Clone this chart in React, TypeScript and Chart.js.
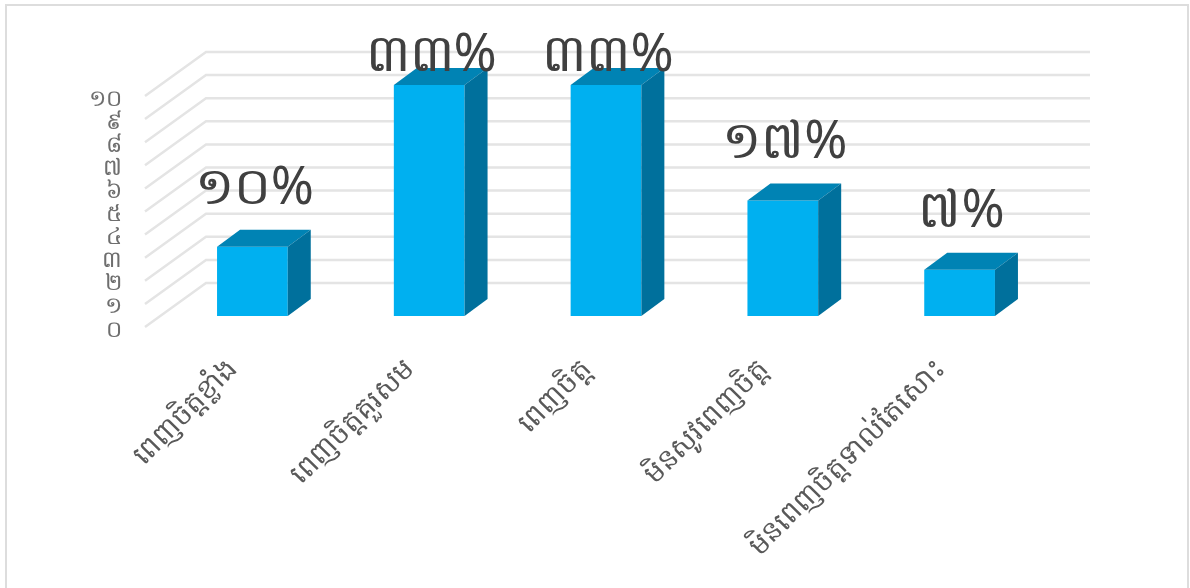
import { useEffect, useRef } from "react";
import { Chart, registerables } from "chart.js";

Chart.register(...registerables);

const categories = ["ពេញចិត្តខ្លាំង", "ពេញចិត្តគួរសម", "ពេញចិត្ត", "មិនសូវពេញចិត្ត", "មិនពេញចិត្តទាល់តែសោះ"];
const counts = [3, 10, 10, 5, 2];
const percentLabels = ["១០%", "៣៣%", "៣៣%", "១៧%", "៧%"];
const khmerDigits = ["០", "១", "២", "៣", "៤", "៥", "៦", "៧", "៨", "៩", "១០"];

const FONT = '"Noto Sans", "DejaVu Sans", sans-serif';
const FRONT = "#00B0F0";
const TOP = "#0083B4";
const SIDE = "#00709C";
const GRID = "#E4E4E4";

// Perspective offsets of the bars' depth and of the floor and back wall.
const BAR_DX = 23;
const BAR_DY = -17;
const WALL_BACK = { dx: 42, dy: -33 };
const WALL_FRONT = { dx: -19, dy: 11 };

const wallPlugin = {
  id: "wall",
  beforeDatasetsDraw(chart: any) {
    const { ctx, chartArea, scales } = chart;
    ctx.save();
    ctx.strokeStyle = GRID;
    ctx.lineWidth = 2.5;
    for (const tick of scales.y.ticks) {
      const y = scales.y.getPixelForValue(tick.value);
      ctx.beginPath();
      ctx.moveTo(chartArea.left + WALL_FRONT.dx, y + WALL_FRONT.dy);
      ctx.lineTo(chartArea.left + WALL_BACK.dx, y + WALL_BACK.dy);
      ctx.lineTo(chartArea.right + WALL_BACK.dx, y + WALL_BACK.dy);
      ctx.stroke();
    }
    ctx.restore();
  },
};

const barDepthPlugin = {
  id: "barDepth",
  afterDatasetsDraw(chart: any) {
    const { ctx } = chart;
    ctx.save();
    for (const bar of chart.getDatasetMeta(0).data) {
      const left = bar.x - bar.width / 2;
      const right = bar.x + bar.width / 2;
      ctx.fillStyle = TOP;
      ctx.beginPath();
      ctx.moveTo(left, bar.y);
      ctx.lineTo(left + BAR_DX, bar.y + BAR_DY);
      ctx.lineTo(right + BAR_DX, bar.y + BAR_DY);
      ctx.lineTo(right, bar.y);
      ctx.closePath();
      ctx.fill();
      ctx.fillStyle = SIDE;
      ctx.beginPath();
      ctx.moveTo(right, bar.y);
      ctx.lineTo(right + BAR_DX, bar.y + BAR_DY);
      ctx.lineTo(right + BAR_DX, bar.base + BAR_DY);
      ctx.lineTo(right, bar.base);
      ctx.closePath();
      ctx.fill();
    }
    ctx.restore();
  },
};

const percentLabelPlugin = {
  id: "percentLabels",
  afterDraw(chart: any) {
    const { ctx } = chart;
    ctx.save();
    ctx.fillStyle = "#404040";
    ctx.font = `52px ${FONT}`;
    ctx.textAlign = "center";
    ctx.textBaseline = "alphabetic";
    chart.getDatasetMeta(0).data.forEach((bar: any, i: number) => {
      const y = Math.max(bar.y - 43, 71);
      ctx.fillText(percentLabels[i], bar.x + 2, y);
    });
    ctx.restore();
  },
};

export default function App() {
  const ref = useRef<HTMLCanvasElement>(null);
  useEffect(() => {
    document.body.style.margin = "0";
    const chart = new Chart(ref.current!, {
      type: "bar",
      data: {
        labels: categories,
        datasets: [{ data: counts, backgroundColor: FRONT, barPercentage: 0.4, categoryPercentage: 1 }],
      },
      options: {
        animation: false,
        responsive: false,
        layout: { padding: { top: 85, right: 142, left: 0, bottom: 0 } },
        plugins: { legend: { display: false }, tooltip: { enabled: false } },
        scales: {
          x: {
            grid: { display: false },
            border: { display: false },
            afterFit(scale: any) { scale.height = 272; },
            ticks: {
              minRotation: 45,
              maxRotation: 45,
              padding: 29,
              labelOffset: -19,
              autoSkip: false,
              color: "#595959",
              font: { size: 28, family: FONT },
            },
          },
          y: {
            min: 0,
            max: 10,
            grid: { display: false },
            border: { display: false },
            afterFit(scale: any) { scale.width = 164; },
            ticks: {
              stepSize: 1,
              autoSkip: false,
              padding: 34,
              labelOffset: 14,
              color: "#6E6E6E",
              font: { size: 23, family: FONT },
              callback: (v: any) => khmerDigits[v as number],
            },
          },
        },
      },
      plugins: [wallPlugin, barDepthPlugin, percentLabelPlugin],
    });
    return () => chart.destroy();
  }, []);
  return (
    <div style={{ position: "relative", width: 1190, height: 588, background: "#fff", overflow: "hidden" }}>
      <canvas ref={ref} width={1190} height={588} style={{ display: "block" }} />
      <div
        style={{
          position: "absolute",
          left: 5,
          top: 4,
          width: 1180,
          height: 590,
          borderLeft: "2px solid #DDDDDD",
          borderTop: "2px solid #DDDDDD",
          borderRight: "2px solid #DDDDDD",
        }}
      />
    </div>
  );
}
